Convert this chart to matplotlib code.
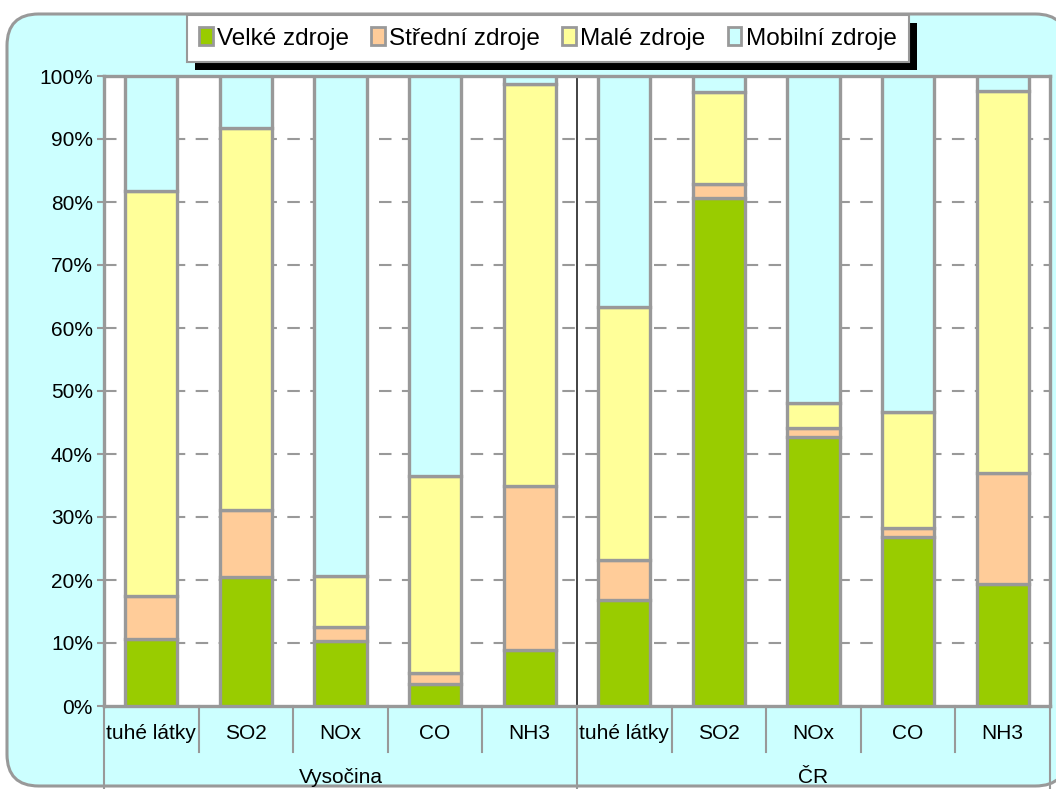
import matplotlib as mpl
mpl.use('Agg')
import matplotlib.pyplot as plt
from matplotlib.patches import Patch, Rectangle, FancyBboxPatch
from matplotlib.transforms import IdentityTransform, blended_transform_factory
import numpy as np

plt.rcParams['font.family'] = ['Liberation Sans', 'DejaVu Sans']
plt.rcParams['font.size'] = 15

# data (% share of emissions by source type)
regions = ['Vysočina', 'ČR']
pollutants = ['tuhé látky', 'SO2', 'NOx', 'CO', 'NH3']
series_names = ['Velké zdroje', 'Střední zdroje', 'Malé zdroje', 'Mobilní zdroje']
velke = [10.6, 20.5, 10.3, 3.5, 8.9, 16.8, 80.6, 42.7, 26.9, 19.4]
stredni = [6.9, 10.6, 2.3, 1.7, 26.1, 6.3, 2.2, 1.4, 1.3, 17.6]
male = [64.2, 60.6, 8.1, 31.3, 63.7, 40.2, 14.6, 4.0, 18.5, 60.6]
mobilni = [18.3, 8.3, 79.3, 63.5, 1.3, 36.7, 2.6, 51.9, 53.3, 2.4]

colors = ['#99CC00', '#FFCC99', '#FFFF99', '#CCFFFF']
gray = '#999999'

W, H = 1056, 789
fig = plt.figure(figsize=(W / 100, H / 100), dpi=100)
fig.patch.set_facecolor('white')

# rounded chart background
bg = FancyBboxPatch((7 / W, 1 - 786 / H), 1060 / W, 772 / H,
                    boxstyle='round,pad=0,rounding_size=0.03',
                    transform=fig.transFigure, fc='#CCFFFF', ec=gray, lw=2.2,
                    zorder=0, mutation_aspect=W / H)
fig.add_artist(bg)

ax = fig.add_axes([104 / W, 1 - 706 / H, 946 / W, 630 / H])
ax.set_facecolor('white')
ax.set_zorder(1)

n = len(velke)
x = np.arange(n) + 0.5
bottom = np.zeros(n)
for vals, c in zip([velke, stredni, male, mobilni], colors):
    ax.bar(x, vals, 0.55, bottom=bottom, color=c, edgecolor=gray, linewidth=2.4, zorder=3)
    bottom += np.array(vals)

ax.set_xlim(0, n)
ax.set_ylim(0, 100)
ax.set_yticks(np.arange(0, 101, 10))
ax.set_yticklabels(['%d%%' % v for v in range(0, 101, 10)])
for v in range(10, 100, 10):
    ax.axhline(v, color=gray, lw=1.5, ls=(0, (6, 5)), zorder=1)
ax.tick_params(axis='y', length=5, width=1.5, color=gray, pad=3)
ax.set_xticks([])
for s in ax.spines.values():
    s.set_color(gray)
    s.set_linewidth(2.4)

# separator between regions
ax.axvline(5, color='#222222', lw=1.2, zorder=2)

# two-level category axis
tr = blended_transform_factory(ax.transData, ax.transAxes)
for i, p in enumerate(pollutants * 2):
    ax.text(i + 0.5, -0.043, p, transform=tr, ha='center', va='center', clip_on=False)
for i in range(1, n):
    if i == 5:
        continue
    ax.plot([i, i], [0, -0.073], transform=tr, color=gray, lw=1.5, clip_on=False)
for i in [0, 5, 10]:
    ax.plot([i, i], [0, -0.15], transform=tr, color=gray, lw=1.5, clip_on=False)
for j, r in enumerate(regions):
    ax.text(j * 5 + 2.5, -0.113, r, transform=tr, ha='center', va='center', clip_on=False)

# legend with black shadow
handles = [Patch(fc=c, ec=gray, lw=2.0) for c in colors]
leg = fig.legend(handles, series_names, ncol=4, loc='upper left',
                 bbox_to_anchor=(187 / W, 1 - 15 / H), frameon=True, fancybox=False,
                 edgecolor=gray, framealpha=1, borderpad=0.5, handlelength=0.55,
                 handleheight=0.75, handletextpad=0.2, columnspacing=0.9,
                 borderaxespad=0, fontsize=17.5)
leg.get_frame().set_linewidth(1.5)
leg.set_zorder(5)
fig.canvas.draw()
bb = leg.get_window_extent()
shadow = Rectangle((bb.x0 + 8, bb.y0 - 8), bb.width, bb.height, transform=IdentityTransform(),
                   fc='black', ec='none', zorder=4)
fig.add_artist(shadow)

fig.savefig('out.png', dpi=100)
